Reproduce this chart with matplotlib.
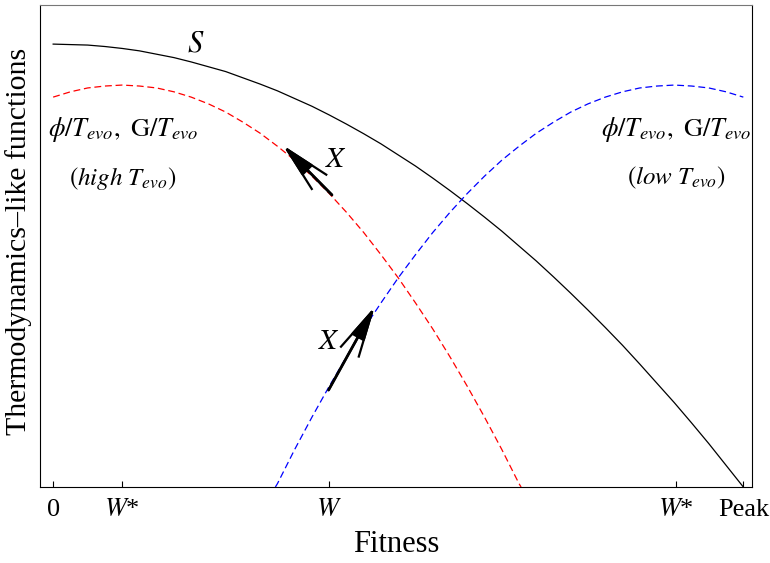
import matplotlib
matplotlib.use('Agg')
import matplotlib.pyplot as plt

plt.rcParams['font.family'] = ['Liberation Serif', 'DejaVu Serif']
plt.rcParams['mathtext.fontset'] = 'stix'

# Entropy-like curve S along fitness (0 .. Peak)
s_x = [0.0, 0.025, 0.05, 0.075, 0.1, 0.125, 0.15, 0.175, 0.2, 0.225, 0.25,
       0.275, 0.3, 0.325, 0.35, 0.375, 0.4, 0.425, 0.45, 0.475, 0.5,
       0.525, 0.55, 0.575, 0.6, 0.625, 0.65, 0.675, 0.7, 0.725, 0.75,
       0.775, 0.8, 0.825, 0.85, 0.875, 0.9, 0.925, 0.95, 0.975, 1.0]
s_y = [0.919, 0.918, 0.917, 0.914, 0.910, 0.905, 0.898, 0.891, 0.882, 0.872, 0.862,
       0.849, 0.836, 0.822, 0.806, 0.790, 0.772, 0.753, 0.733, 0.712, 0.689,
       0.666, 0.641, 0.615, 0.588, 0.560, 0.531, 0.500, 0.469, 0.436, 0.402,
       0.367, 0.331, 0.294, 0.255, 0.215, 0.175, 0.133, 0.090, 0.045, 0.0]

# phi/T_evo, G/T_evo at high T_evo (red, peak at left W*)
high_x = [0.0, 0.025, 0.05, 0.075, 0.1, 0.125, 0.15, 0.175, 0.2, 0.225, 0.25,
          0.275, 0.3, 0.325, 0.35, 0.375, 0.4, 0.425, 0.45, 0.475, 0.5,
          0.525, 0.55, 0.575, 0.6, 0.625, 0.65, 0.675, 0.678]
high_y = [0.809, 0.820, 0.828, 0.832, 0.834, 0.832, 0.828, 0.820, 0.809, 0.795, 0.778,
          0.757, 0.734, 0.707, 0.678, 0.645, 0.609, 0.570, 0.528, 0.482, 0.434,
          0.382, 0.328, 0.270, 0.209, 0.145, 0.078, 0.007, 0.0]

# phi/T_evo, G/T_evo at low T_evo (blue, peak at right W*)
low_x = [0.322, 0.325, 0.35, 0.375, 0.4, 0.425, 0.45, 0.475, 0.5, 0.525, 0.55,
         0.575, 0.6, 0.625, 0.65, 0.675, 0.7, 0.725, 0.75, 0.775, 0.8,
         0.825, 0.85, 0.875, 0.9, 0.925, 0.95, 0.975, 1.0]
low_y = [0.0, 0.007, 0.078, 0.145, 0.209, 0.270, 0.328, 0.382, 0.434, 0.482, 0.528,
         0.570, 0.609, 0.645, 0.678, 0.707, 0.734, 0.757, 0.778, 0.795, 0.809,
         0.820, 0.828, 0.832, 0.834, 0.832, 0.828, 0.820, 0.809]

# Direction of change X at fitness W (tail -> head)
arrow_high = [(0.404, 0.606), (0.333, 0.709)]
arrow_low = [(0.399, 0.201), (0.466, 0.374)]

tick_pos = [0.0, 0.1, 0.4, 0.903, 1.0]
tick_labels = ['0', r'$W$*', r'$W$', r'$W$*', 'Peak']

fig = plt.figure(figsize=(7.7, 5.63), dpi=100)
ax = fig.add_axes([0.052, 0.135, 0.925, 0.856])

ax.plot(s_x, s_y, color='black', lw=0.9)
ax.plot(high_x, high_y, color='red', lw=0.9, dashes=(5.5, 3))
ax.plot(low_x, low_y, color='blue', lw=0.9, dashes=(5.5, 3))

# long swept arrowheads: open barbs plus a filled wedge at the tip
for (tail, head) in [arrow_high, arrow_low]:
    ax.annotate('', xy=head, xytext=tail,
                arrowprops=dict(arrowstyle='->,head_length=3.4,head_width=0.75',
                                color='black', lw=1.6, shrinkA=0, shrinkB=0,
                                mutation_scale=10, joinstyle='miter', capstyle='butt'))
    ax.annotate('', xy=head, xytext=tail,
                arrowprops=dict(arrowstyle='-|>,head_length=2.0,head_width=0.44',
                                color='black', lw=2, shrinkA=0, shrinkB=0,
                                mutation_scale=10))

ax.text(0.206, 0.919, r'$S$', fontsize=22, ha='center', va='center')
ax.text(0.41, 0.678, r'$X$', fontsize=21, ha='center', va='center')
ax.text(0.40, 0.30, r'$X$', fontsize=21, ha='center', va='center')

fe_label = r'$\phi/T_{evo},\ \mathrm{G}/T_{evo}$'
ax.text(0.101, 0.741, fe_label, fontsize=19, ha='center', va='center')
ax.text(0.101, 0.641, r'$(\mathit{high}\ T_{evo})$', fontsize=18, ha='center', va='center')
ax.text(0.903, 0.741, fe_label, fontsize=19, ha='center', va='center')
ax.text(0.903, 0.641, r'$(\mathit{low}\ T_{evo})$', fontsize=18, ha='center', va='center')

ax.set_xlim(-0.019, 1.013)
ax.set_ylim(0, 1)
ax.set_xticks(tick_pos)
ax.set_xticklabels(tick_labels, fontsize=19)
ax.set_yticks([])
ax.tick_params(axis='x', direction='in', length=4, width=0.8, pad=9, top=False)
ax.spines['top'].set_color('#777777')
for side in ['left', 'right', 'bottom']:
    ax.spines[side].set_color('black')

ax.set_xlabel('Fitness', fontsize=22, labelpad=6)
ax.set_ylabel('Thermodynamics\u2013like functions', fontsize=21.5)
ax.yaxis.set_label_coords(-0.011, 0.51)

fig.savefig('out.png', dpi=100)
